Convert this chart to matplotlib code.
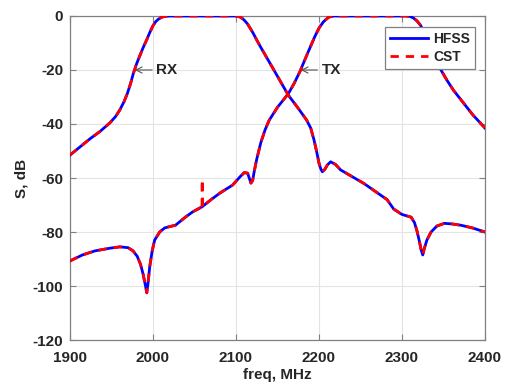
import matplotlib
matplotlib.use("Agg")
import matplotlib.pyplot as plt

# ---- data ----
rx_freq = [1900, 1912, 1924, 1936, 1948, 1955, 1960, 1965, 1969, 1973, 1976, 1980, 1984, 1988,
           1993, 1996, 2000, 2003, 2006, 2009, 2012, 2016, 2020,
           2060, 2098, 2102, 2105, 2108, 2111, 2114, 2117, 2120, 2128, 2137, 2149, 2163, 2175,
           2185, 2190, 2194, 2197, 2200, 2202, 2204, 2207, 2210, 2214, 2220, 2226, 2240, 2254,
           2268, 2282, 2290, 2300, 2311, 2315, 2318, 2321, 2323, 2325, 2327, 2330, 2335, 2342,
           2351, 2360, 2371, 2385, 2400]
rx_db = [-51.5, -48.5, -45.5, -42.8, -39.6, -37.2, -34.8, -31.8, -28.8, -25.0, -21.6, -17.9, -14.8, -11.8,
         -8.4, -6.2, -3.6, -2.2, -1.3, -0.7, -0.3, -0.1, 0.0,
         0.0, 0.0, -0.1, -0.4, -1.0, -1.9, -3.0, -4.5, -6.0, -10.6, -15.4, -21.8, -29.3, -34.2,
         -38.5, -41.5, -45.9, -50.0, -54.5, -56.5, -57.7, -56.8, -55.2, -54.0, -55.0, -57.0, -59.5, -62.0,
         -65.0, -68.0, -71.5, -73.5, -74.5, -76.5, -79.5, -83.5, -86.5, -88.5, -86.0, -83.0, -80.0, -77.8,
         -76.8, -77.0, -77.5, -78.5, -80.0]

tx_freq = [1900, 1915, 1930, 1948, 1960, 1970, 1976, 1981, 1985, 1988, 1991, 1992.5, 1994, 1996,
           1999, 2002, 2008, 2014, 2020, 2027, 2033, 2039, 2048, 2059, 2070, 2081, 2096, 2105,
           2110, 2114, 2118, 2120, 2122, 2125, 2130, 2135, 2140, 2150, 2163, 2170, 2177, 2186,
           2195, 2200, 2205, 2208, 2212, 2218, 2260, 2305, 2310, 2314, 2318, 2322, 2326, 2330,
           2338, 2346, 2354, 2362, 2371, 2385, 2400]
tx_db = [-90.7, -88.5, -87.0, -86.0, -85.5, -85.8, -87.0, -89.0, -92.0, -95.5, -100.0, -102.5, -99.0, -93.0,
         -87.0, -83.0, -80.0, -78.5, -78.0, -77.5, -76.0, -74.5, -72.5, -70.7, -68.0, -65.5, -62.6, -59.5,
         -58.0, -58.2, -61.9, -61.0, -57.5, -53.0, -46.8, -42.2, -38.6, -33.8, -28.8, -25.0, -20.6, -14.0,
         -7.6, -4.5, -2.3, -1.4, -0.4, 0.0, 0.0, 0.0, -0.2, -0.8, -1.8, -3.3, -5.5, -8.0,
         -15.0, -19.5, -23.7, -27.5, -31.0, -36.5, -41.5]

# small spike present only in the CST result
cst_spike_freq = [2059, 2059.3, 2059.6]
cst_spike_db = [-70.7, -60.5, -70.6]

x_ticks = [1900, 2000, 2100, 2200, 2300, 2400]
y_ticks = [-120, -100, -80, -60, -40, -20, 0]

# ---- figure ----
plt.rcParams['font.family'] = ['Liberation Sans', 'DejaVu Sans']
plt.rcParams['axes.unicode_minus'] = False
txt = '#262626'
fig = plt.figure(figsize=(5.08, 3.87), dpi=100)
ax = fig.add_axes([0.1378, 0.1214, 0.8169, 0.8373])

blue = '#0000ff'
red = '#ff0000'
lw = 2.0
ax.plot(rx_freq, rx_db, color=blue, lw=lw, label='HFSS', zorder=3)
ax.plot(tx_freq, tx_db, color=blue, lw=lw, zorder=3)
ax.plot(rx_freq, rx_db, color=red, lw=lw, dashes=(3, 2.5), label='CST', zorder=4)
ax.plot(tx_freq, tx_db, color=red, lw=lw, dashes=(3, 2.5), zorder=4)
ax.plot(cst_spike_freq, cst_spike_db, color=red, lw=lw, dashes=(3, 2.5), zorder=4)

ax.set_xlim(1900, 2400)
ax.set_ylim(-120, 0)
ax.set_xticks(x_ticks)
ax.set_yticks(y_ticks)
ax.grid(True, color='#e3e3e3', lw=0.8)
ax.set_axisbelow(True)
for s in ax.spines.values():
    s.set_color('#808080')
    s.set_linewidth(0.9)
ax.tick_params(direction='in', length=4, width=0.8, color='#808080',
               top=True, right=True, labelsize=11, labelcolor=txt)
ax.tick_params(axis='x', pad=8)
ax.tick_params(axis='y', pad=5)
for lab in ax.get_xticklabels() + ax.get_yticklabels():
    lab.set_fontweight('bold')

ax.set_xlabel('freq, MHz', fontsize=11, fontweight='bold', color=txt, labelpad=2)
ax.set_ylabel('S, dB', fontsize=11, fontweight='bold', color=txt, labelpad=3)

# annotations
ax.annotate('RX', xy=(1978, -20), xytext=(2004, -20), fontsize=11, fontweight='bold',
            color=txt, va='center', ha='left',
            arrowprops=dict(arrowstyle='->', color='#555555', lw=0.8, shrinkA=1, shrinkB=0))
ax.annotate('TX', xy=(2178, -20), xytext=(2203, -20), fontsize=11, fontweight='bold',
            color=txt, va='center', ha='left',
            arrowprops=dict(arrowstyle='->', color='#555555', lw=0.8, shrinkA=1, shrinkB=0))

leg = ax.legend(loc='upper right', bbox_to_anchor=(0.976, 0.966), fancybox=False,
                framealpha=1, edgecolor='#808080', handlelength=2.7, borderpad=0.35,
                labelspacing=0.3, handletextpad=0.4, borderaxespad=0,
                prop={'weight': 'bold', 'size': 10})
for t in leg.get_texts():
    t.set_color(txt)
leg.get_frame().set_linewidth(0.9)

fig.savefig('out.png', dpi=100)
